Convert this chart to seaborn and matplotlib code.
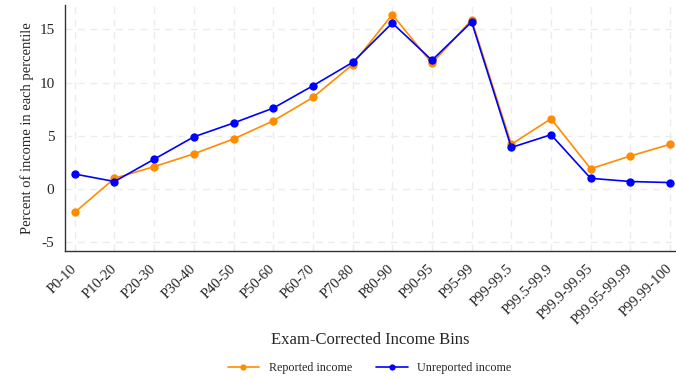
import matplotlib
matplotlib.use("Agg")
import matplotlib.pyplot as plt
import seaborn as sns
import pandas as pd

bins = ["P0-10", "P10-20", "P20-30", "P30-40", "P40-50", "P50-60", "P60-70",
        "P70-80", "P80-90", "P90-95", "P95-99", "P99-99.5", "P99.5-99.9",
        "P99.9-99.95", "P99.95-99.99", "P99.99-100"]
reported = [-2.2, 1.0, 2.1, 3.3, 4.7, 6.4, 8.6, 11.7, 16.4, 11.8, 15.9, 4.2, 6.6, 1.9, 3.1, 4.2]
unreported = [1.4, 0.7, 2.8, 4.9, 6.2, 7.6, 9.7, 11.9, 15.6, 12.1, 15.7, 3.9, 5.1, 1.0, 0.7, 0.6]
series_names = ["Reported income", "Unreported income"]
colors = ["#FF8C00", "#0000FF"]

sns.set_style("white")
plt.rcParams['font.family'] = ['Liberation Serif', 'DejaVu Serif']

df = pd.DataFrame({
    "pos": list(range(len(bins))) * 2,
    "value": reported + unreported,
    "series": [series_names[0]] * len(bins) + [series_names[1]] * len(bins),
})

fig = plt.figure(figsize=(6.76, 3.8), dpi=100)
ax = fig.add_axes([0.096, 0.339, 0.904, 0.648])

sns.lineplot(data=df, x="pos", y="value", hue="series", palette=colors,
             hue_order=series_names, marker="o", markersize=6, markeredgewidth=0,
             linewidth=1.2, ax=ax, sort=False)

ax.set_xlim(-0.25, 15.15)
ax.set_ylim(-5.85, 17.3)
ax.set_xticks(range(len(bins)))
ax.set_xticklabels(bins, rotation=45, ha="right", va="center",
                   rotation_mode="anchor", fontsize=10.5)
ax.set_yticks([-5, 0, 5, 10, 15])
ax.set_yticklabels(["-5", "0", "5", "10", "15"], fontsize=11)
ax.grid(True, color="#ececec", linestyle=(0, (5, 4)), linewidth=1)
for s in ["top", "right"]:
    ax.spines[s].set_visible(False)
for s in ["left", "bottom"]:
    ax.spines[s].set_color("#333333")
    ax.spines[s].set_linewidth(1)
ax.tick_params(axis="both", length=4, width=0.8, color="#333333", direction="out")
ax.tick_params(axis="x", pad=7)
ax.set_ylabel("Percent of income in each percentile", fontsize=10.5)
ax.set_xlabel("")
fig.text(370 / 676, 1 - 340 / 380, "Exam-Corrected Income Bins", ha="center",
         va="center", fontsize=12)

ax.legend_.remove()
handles, labels = ax.get_legend_handles_labels()
for h in handles:
    h.set_markersize(4.5)
fig.legend(handles, labels, loc="center", bbox_to_anchor=(369.5 / 676, 1 - 368 / 380), ncol=2,
           frameon=False, fontsize=8.7, columnspacing=2.0, handlelength=2.6,
           handletextpad=0.8)

fig.savefig("out.png", dpi=100, facecolor="white")
